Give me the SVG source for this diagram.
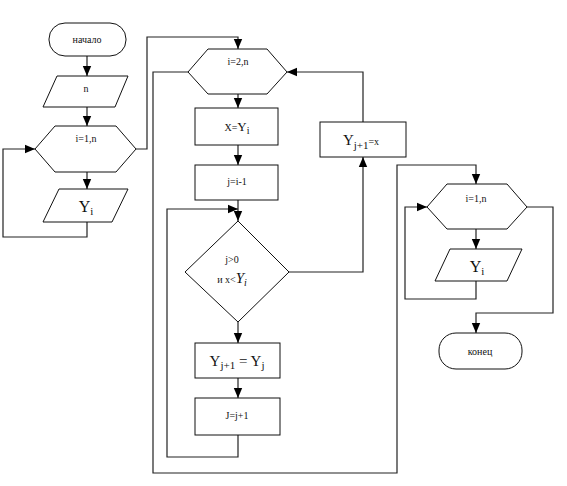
<svg xmlns="http://www.w3.org/2000/svg" width="567" height="486" viewBox="0 0 567 486">
<defs>
<marker id="ah" markerUnits="userSpaceOnUse" markerWidth="10" markerHeight="10" viewBox="0 0 10 10" refX="10" refY="5" orient="auto">
<path d="M0,0.8 L10,5 L0,9.2 Z" fill="#000"/>
</marker>
</defs>
<style>
.s{fill:#fff;stroke:#111;stroke-width:1}
.c{fill:none;stroke:#222;stroke-width:1.2}
.a{marker-end:url(#ah)}
text{font-family:"Liberation Serif","Times New Roman",serif;fill:#111;text-anchor:middle}
.t{font-size:10px}
.b{font-size:16px}
.m{font-size:15px}
</style>
<rect width="567" height="486" fill="#fff"/>
<g id="connectors">
<path class="c a" d="M87,56 V76"/>
<path class="c a" d="M87,107 V126"/>
<path class="c a" d="M87,172 V189"/>
<path class="c a" d="M87,222 V237 H3 V149 H35"/>
<path class="c a" d="M136,149 H147 V37 H238 V49"/>
<path class="c a" d="M238,94 V108"/>
<path class="c a" d="M238,145 V165"/>
<path class="c a" d="M238,200 V221"/>
<path class="c a" d="M238,435 V457 H167 V209 H238"/>
<path class="c a" d="M238,322 V343"/>
<path class="c a" d="M238,378 V398"/>
<path class="c a" d="M289,272 H363 V157"/>
<path class="c a" d="M363,122 V72 H287"/>
<path class="c a" d="M188,72 H153 V473 H397 V165 H476 V184"/>
<path class="c a" d="M476,229 V249"/>
<path class="c a" d="M476,281 V299 H405 V207 H427"/>
<path class="c a" d="M527,207 H553 V313 H476 V333"/>
</g>
<g id="start">
<rect class="s" x="49" y="23" width="77" height="33" rx="16"/>
<text class="t" x="87" y="43">начало</text>
</g>
<g id="input-n">
<polygon class="s" points="57,76 128,76 115,107 43,107"/>
<text class="t" x="86" y="92">n</text>
</g>
<g id="loop1">
<polygon class="s" points="35,149 55,126 116,126 136,149 116,172 55,172"/>
<text class="t" x="86" y="142">i=1,n</text>
</g>
<g id="input-yi">
<polygon class="s" points="59,189 128,189 112,222 43,222"/>
<text class="b" x="86" y="212">Y<tspan font-size="11" dy="3">i</tspan></text>
</g>
<g id="loop2">
<polygon class="s" points="188,72 208,49 267,49 287,72 267,94 208,94"/>
<text class="t" x="238" y="65">i=2,n</text>
</g>
<g id="assign-x">
<rect class="s" x="195" y="108" width="83" height="37"/>
<text class="t" x="237" y="131">X=<tspan font-size="13">Y</tspan><tspan font-size="10" dy="3">i</tspan></text>
</g>
<g id="assign-j">
<rect class="s" x="195" y="165" width="83" height="35"/>
<text class="t" x="237" y="185">j=i-1</text>
</g>
<g id="cond">
<polygon class="s" points="238,221 289,272 238,322 185,272"/>
<text class="t" x="232" y="263">j&gt;0</text>
<text class="t" x="232" y="283">и  x&lt;<tspan font-size="15" font-style="italic">Y</tspan><tspan font-size="10" font-style="italic" dy="3">i</tspan></text>
</g>
<g id="shift">
<rect class="s" x="195" y="343" width="85" height="35"/>
<text class="m" x="237" y="366">Y<tspan font-size="11" dy="3">j+1</tspan><tspan dy="-3"> = Y</tspan><tspan font-size="11" dy="3">j</tspan></text>
</g>
<g id="dec-j">
<rect class="s" x="195" y="398" width="85" height="37"/>
<text class="t" x="237" y="419">J=j+1</text>
</g>
<g id="insert">
<rect class="s" x="320" y="122" width="86" height="35"/>
<text x="361" y="145" font-size="15">Y<tspan font-size="11" dy="4">j+1</tspan><tspan font-size="10" dy="-4">=x</tspan></text>
</g>
<g id="loop3">
<polygon class="s" points="427,207 447,184 507,184 527,207 507,229 447,229"/>
<text class="t" x="476" y="202">i=1,n</text>
</g>
<g id="output-yi">
<polygon class="s" points="450,249 522,249 507,281 435,281"/>
<text class="b" x="477" y="272">Y<tspan font-size="11" dy="3">i</tspan></text>
</g>
<g id="end">
<rect class="s" x="439" y="333" width="83" height="36" rx="17"/>
<text class="t" x="480" y="355">конец</text>
</g>
</svg>
